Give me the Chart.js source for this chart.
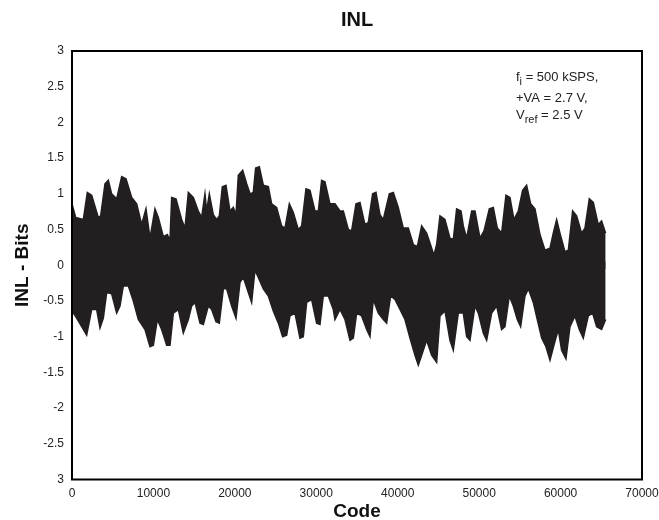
<!DOCTYPE html>
<html>
<head>
<meta charset="utf-8">
<title>INL</title>
<script src="https://cdn.jsdelivr.net/npm/chart.js@4.4.1/dist/chart.umd.min.js"></script>
<style>
    body { margin: 0; background: #fff; }
    #wrap { width: 659px; height: 520px; position: relative; }
</style>
</head>
<body>
<div id="wrap"><canvas id="inlChart"></canvas></div>
<script>
// upper edge of the INL band (code, bits)
const upperCodes = [0, 450, 1390, 1880, 2415, 3230, 3520, 4050, 4460, 4870, 5485, 6100, 6630, 7330, 7940,
    8555, 9085, 9580, 10190, 10600, 11215, 11705, 12030, 12240, 12770, 13465, 13875, 14285, 14900, 15510,
    15920, 16330, 16540, 16865, 17355, 17765, 18090, 18460, 18910, 19400, 19810, 20140, 20425, 20960,
    21450, 21860, 22265, 22550, 23005, 23495, 24110, 24520, 25130, 25745, 26155, 26690, 27180, 27790,
    28200, 28735, 29225, 29840, 30250, 30655, 31065, 31680, 32295, 32910, 33320, 33935, 34340, 34875,
    35365, 35980, 36390, 36920, 37330, 37820, 38230, 38970, 39460, 40070, 40685, 41300, 41915, 42405,
    42940, 43550, 43960, 44450, 44780, 45190, 45800, 46415, 46825, 47235, 47770, 48055, 48465, 49080,
    49490, 50100, 50595, 51250, 51740, 52230, 52760, 53295, 53785, 54275, 54810, 55340, 55830, 56325,
    56855, 57470, 58085, 58700, 59105, 59515, 59925, 60540, 60950, 61480, 61970, 62585, 62995, 63530,
    64020, 64630, 65040, 65535];
const upperInl = [0.86, 0.67, 0.64, 1.02, 0.98, 0.67, 0.69, 1.14, 1.19, 1.0, 0.93, 1.24, 1.21, 0.95, 0.86,
    0.57, 0.79, 0.38, 0.79, 0.67, 0.40, 0.43, 0.35, 0.95, 0.93, 0.64, 0.52, 1.02, 0.95, 0.76,
    0.67, 1.0, 0.76, 1.0, 0.71, 0.64, 0.69, 1.10, 1.12, 0.76, 0.81, 0.71, 1.26, 1.33,
    1.14, 1.0, 1.02, 1.36, 1.38, 1.12, 1.10, 0.86, 0.81, 0.55, 0.52, 0.86, 0.74, 0.50,
    0.55, 1.07, 1.05, 0.76, 0.76, 1.19, 1.17, 0.86, 0.86, 0.76, 0.76, 0.50, 0.48, 0.86,
    0.88, 0.57, 0.60, 1.0, 1.02, 0.71, 0.64, 1.0, 1.02, 0.81, 0.52, 0.52, 0.29, 0.26,
    0.55, 0.45, 0.31, 0.14, 0.29, 0.69, 0.64, 0.38, 0.36, 0.79, 0.76, 0.55, 0.38, 0.76,
    0.76, 0.38, 0.48, 0.79, 0.81, 0.52, 0.45, 0.98, 0.95, 0.64, 0.76, 1.05, 1.12, 0.86,
    0.79, 0.43, 0.21, 0.24, 0.45, 0.64, 0.45, 0.19, 0.21, 0.76, 0.69, 0.45, 0.52, 0.93,
    0.88, 0.57, 0.62, 0.45];

// lower edge of the INL band (code, bits)
const lowerCodes = [0, 575, 1190, 1800, 2415, 3030, 3440, 3850, 4260, 4870, 5485, 5895, 6300, 6920, 7530,
    8145, 8965, 9580, 9990, 10480, 11010, 11625, 12035, 12445, 13060, 13670, 14285, 14695, 15105, 15720,
    16130, 16740, 17150, 17680, 18090, 18585, 18990, 19605, 20140, 20630, 21040, 21655, 22060, 22470,
    22880, 23495, 24110, 24720, 25340, 25870, 26360, 26770, 27380, 27995, 28405, 28815, 29430, 30045,
    30455, 30860, 31475, 32090, 32295, 32910, 33525, 34140, 34550, 34955, 35570, 36185, 36595, 37000,
    37615, 38230, 38640, 39130, 39665, 40280, 40890, 41505, 42120, 42530, 42940, 43550, 44165, 44780,
    45190, 45800, 46415, 46825, 47440, 48055, 48465, 48875, 49490, 49900, 50510, 50920, 51535, 52150,
    52760, 53170, 53705, 54195, 54685, 55095, 55630, 56040, 56650, 57140, 57675, 58205, 58700, 59230,
    59720, 60130, 60660, 61155, 61765, 62300, 62790, 63405, 63935, 64430, 65040, 65535];
const lowerInl = [-0.64, -0.74, -0.86, -0.98, -0.62, -0.62, -0.88, -0.74, -0.38, -0.40, -0.67, -0.57, -0.29, -0.29, -0.50,
    -0.76, -0.90, -1.14, -1.12, -0.76, -0.90, -1.12, -1.12, -0.67, -0.62, -0.95, -0.76, -0.57, -0.52, -0.81,
    -0.83, -0.57, -0.62, -0.79, -0.81, -0.33, -0.33, -0.57, -0.74, -0.24, -0.17, -0.38, -0.52, -0.07,
    -0.17, -0.33, -0.43, -0.64, -0.81, -1.0, -0.98, -0.71, -0.67, -1.02, -1.0, -0.52, -0.48, -0.81,
    -0.83, -0.43, -0.43, -0.62, -0.76, -0.62, -0.76, -1.05, -1.02, -0.67, -0.71, -0.90, -1.0, -0.48,
    -0.67, -0.76, -0.81, -0.43, -0.48, -0.62, -0.76, -1.02, -1.26, -1.40, -1.26, -1.05, -1.26, -1.36,
    -0.71, -0.64, -1.05, -1.19, -0.67, -0.67, -1.0, -1.05, -0.57, -0.67, -0.95, -1.05, -0.67, -0.57,
    -0.90, -0.86, -0.43, -0.57, -0.76, -0.86, -0.43, -0.33, -0.52, -0.76, -1.02, -1.14, -1.33, -1.10,
    -0.90, -1.19, -1.31, -0.86, -0.71, -0.90, -1.02, -0.71, -0.67, -0.86, -0.90, -0.76];

// y tick labels from bottom (-3) to top (3), as printed on the original
const yTickLabels = ['3', '-2.5', '-2', '-1.5', '-1', '-0.5', '0', '0.5', '1', '1.5', '2', '2.5', '3'];
const noteLines = [
    {main: 'f', sub: 'i', rest: ' = 500 kSPS,'},
    {main: '+VA = 2.7 V,', sub: '', rest: ''},
    {main: 'V', sub: 'ref', rest: ' = 2.5 V'}
];

const bandColor = '#231f20';

function toPoints(codes, vals) {
    return codes.map((c, i) => ({x: c, y: vals[i]}));
}

const frameBox = {
    id: 'frameBox',
    afterDatasetsDraw(chart) {
        const a = chart.chartArea;
        const ctx = chart.ctx;
        ctx.save();
        ctx.strokeStyle = '#000';
        ctx.lineWidth = 2;
        ctx.strokeRect(a.left, a.top, a.right - a.left, a.bottom - a.top);
        ctx.restore();
    }
};

const noteText = {
    id: 'noteText',
    afterDraw(chart) {
        const ctx = chart.ctx;
        ctx.save();
        ctx.fillStyle = '#222';
        ctx.textBaseline = 'middle';
        const ys = [77, 98, 115];
        noteLines.forEach((ln, i) => {
            let x = 516;
            ctx.font = '13px "Liberation Sans", Arial, sans-serif';
            ctx.fillText(ln.main, x, ys[i]);
            x += ctx.measureText(ln.main).width;
            if (ln.sub) {
                ctx.font = '11px "Liberation Sans", Arial, sans-serif';
                ctx.fillText(ln.sub, x, ys[i] + 5);
                x += ctx.measureText(ln.sub).width;
            }
            if (ln.rest) {
                ctx.font = '13px "Liberation Sans", Arial, sans-serif';
                ctx.fillText(ln.rest, x, ys[i]);
            }
        });
        ctx.restore();
    }
};

document.addEventListener('DOMContentLoaded', function() {
    Chart.defaults.font.family = '"Liberation Sans", Arial, sans-serif';
    Chart.defaults.color = '#222';

    const ctx = document.getElementById('inlChart').getContext('2d');
    new Chart(ctx, {
        type: 'line',
        data: {
            datasets: [
                {
                    label: 'INL upper',
                    data: toPoints(upperCodes, upperInl),
                    borderColor: bandColor,
                    backgroundColor: bandColor,
                    borderWidth: 1.5,
                    pointRadius: 0,
                    tension: 0,
                    fill: {value: -0.05}
                },
                {
                    label: 'INL lower',
                    data: toPoints(lowerCodes, lowerInl),
                    borderColor: bandColor,
                    backgroundColor: bandColor,
                    borderWidth: 1.5,
                    pointRadius: 0,
                    tension: 0,
                    fill: {value: 0.05}
                }
            ]
        },
        options: {
            responsive: true,
            maintainAspectRatio: false,
            animation: false,
            layout: { padding: { left: 0, right: 0, top: 0, bottom: 0 } },
            plugins: {
                legend: { display: false },
                tooltip: { enabled: false },
                title: {
                    display: true,
                    text: 'INL',
                    fullSize: false,
                    color: '#111',
                    font: { size: 20, weight: 'bold' },
                    padding: { top: 8, bottom: 19 }
                }
            },
            scales: {
                x: {
                    type: 'linear',
                    min: 0,
                    max: 70000,
                    grid: { display: false, drawTicks: false },
                    border: { display: false },
                    ticks: {
                        stepSize: 10000,
                        padding: 7,
                        maxRotation: 0,
                        font: { size: 12 },
                        callback: v => String(v)
                    },
                    title: {
                        display: true,
                        text: 'Code',
                        color: '#111',
                        font: { size: 19, weight: 'bold', lineHeight: 1 },
                        padding: { top: 0, bottom: -1 }
                    },
                    afterFit: s => {
                        s.height = 40.5;
                        s.paddingRight = 17;
                        s.paddingLeft = 0;
                    }
                },
                y: {
                    min: -3,
                    max: 3,
                    grid: { display: false, drawTicks: false },
                    border: { display: false },
                    ticks: {
                        stepSize: 0.5,
                        padding: 8,
                        font: { size: 12 },
                        callback: v => yTickLabels[Math.round((v + 3) / 0.5)]
                    },
                    title: {
                        display: true,
                        text: 'INL - Bits',
                        color: '#111',
                        font: { size: 19, weight: 'bold', lineHeight: 1.2 },
                        padding: { top: 11, bottom: 0 }
                    },
                    afterFit: s => { s.width = 72; }
                }
            }
        },
        plugins: [frameBox, noteText]
    });
});
</script>
</body>
</html>
